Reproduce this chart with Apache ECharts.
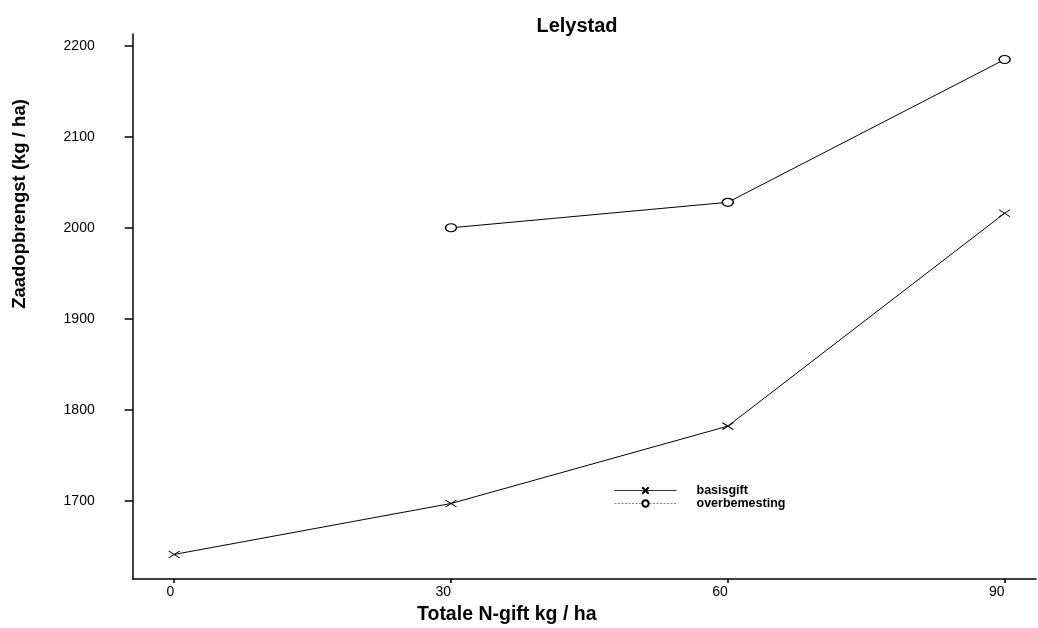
<!DOCTYPE html>
<html>
<head>
<meta charset="utf-8">
<script src="https://cdn.jsdelivr.net/npm/echarts@6/dist/echarts.min.js"></script>
<style>
  html, body { margin: 0; padding: 0; background: #fff; }
  #chart { width: 1038px; height: 628px; }
</style>
</head>
<body>
<div id="chart"></div>
<script>
// data
var nGift = [0, 30, 60, 90];
var basisgift = [1641, 1697, 1782, 2016];
var overbemesting = [null, 2000, 2028, 2185];
var xTicks = [0, 30, 60, 90];
var yTicks = [1700, 1800, 1900, 2000, 2100, 2200];

var FONT = '"Liberation Sans", Arial, sans-serif';
var CROSS = 'path://M0,0L10,10M10,0L0,10';

function pairs(xs, ys) {
    var out = [];
    for (var i = 0; i < xs.length; i++) {
        if (ys[i] != null) out.push([xs[i], ys[i]]);
    }
    return out;
}

var chart = echarts.init(document.getElementById('chart'));
var option = {
    animation: false,
    backgroundColor: '#fff',
    title: {
        text: 'Lelystad',
        left: 572,
        top: 11,
        textAlign: 'center',
        textStyle: { fontFamily: FONT, fontSize: 20, fontWeight: 'bold', color: '#000' }
    },
    legend: {
        orient: 'vertical',
        left: 614,
        top: 484,
        padding: 0,
        itemWidth: 62,
        itemHeight: 8,
        itemGap: 0,
        textStyle: { fontFamily: FONT, fontSize: 12.5, fontWeight: 'bold', color: '#000', lineHeight: 13, padding: [0, 0, 0, 15] },
        data: [
            { name: 'basisgift', lineStyle: { width: 1, color: '#333' } },
            { name: 'overbemesting', lineStyle: { type: [2, 1.5], width: 0.7, color: '#555' } }
        ]
    },
    grid: {
        left: 132.7,
        right: 2,
        top: 34,
        bottom: 49,
        containLabel: false
    },
    xAxis: {
        type: 'value',
        min: -4.5,
        max: 93.4,
        splitLine: { show: false },
        axisLine: { show: true, onZero: false, lineStyle: { color: '#000', width: 1.5 } },
        axisTick: { show: true, length: 4, customValues: xTicks, lineStyle: { color: '#000', width: 1.5 } },
        axisLabel: {
            customValues: xTicks,
            margin: 6,
            align: 'right',
            formatter: function (v) { return String(v); },
            fontFamily: FONT, fontSize: 14, color: '#000'
        }
    },
    yAxis: {
        type: 'value',
        min: 1614,
        max: 2213,
        splitLine: { show: false },
        axisLine: { show: true, onZero: false, lineStyle: { color: '#000', width: 1.5 } },
        axisTick: { show: true, length: 8, customValues: yTicks, lineStyle: { color: '#000', width: 1.5 } },
        axisLabel: {
            customValues: yTicks,
            margin: 38,
            formatter: function (v) { return String(v); },
            fontFamily: FONT, fontSize: 14, color: '#000'
        }
    },
    graphic: [
        {
            type: 'text',
            left: 417,
            top: 605,
            style: { text: 'Totale N-gift kg / ha', font: 'bold 19.5px ' + FONT, fill: '#000' }
        },
        {
            type: 'text',
            x: 10,
            y: 204,
            rotation: Math.PI / 2,
            style: {
                text: 'Zaadopbrengst (kg / ha)',
                font: 'bold 18.5px ' + FONT,
                fill: '#000',
                align: 'center',
                verticalAlign: 'top'
            }
        }
    ],
    series: [
        {
            name: 'basisgift',
            type: 'line',
            data: pairs(nGift, basisgift),
            symbol: CROSS,
            symbolSize: [11, 7],
            showAllSymbol: true,
            lineStyle: { color: '#000', width: 1 },
            itemStyle: { color: 'transparent', borderColor: '#000', borderWidth: 1 }
        },
        {
            name: 'overbemesting',
            type: 'line',
            data: pairs(nGift, overbemesting),
            symbol: 'circle',
            symbolSize: [11, 8],
            showAllSymbol: true,
            lineStyle: { color: '#000', width: 1 },
            itemStyle: { color: '#fff', borderColor: '#000', borderWidth: 1.3 }
        }
    ]
};
chart.setOption(option);
</script>
</body>
</html>
